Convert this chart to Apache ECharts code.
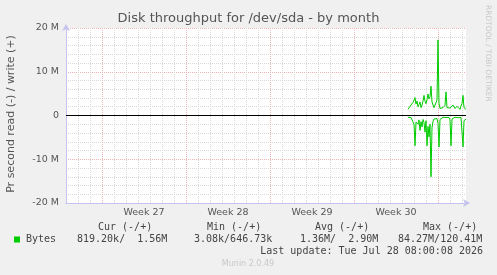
<!DOCTYPE html>
<html>
<head>
<meta charset="utf-8">
<script src="https://cdn.jsdelivr.net/npm/echarts@6/dist/echarts.min.js"></script>
<style>
html,body{margin:0;padding:0;background:#f0f0f0;}
#chart{width:497px;height:275px;}
</style>
</head>
<body>
<div id="chart"></div>
<script>
// ---- data (values in MB/s) ----
const weekLabels = ['Week 27', 'Week 28', 'Week 29', 'Week 30'];
const weekMidHours = [84, 252, 420, 588];
const yTickValues = [-20000000, -10000000, 0, 10000000, 20000000];
const yTickLabels = ['-20 M', '-10 M', '0', '10 M', '20 M'];
const startHour = 612;   // first sample, hours after start of Week 27
const stepHours = 2;
const writeM = [1.4, 1.8, 2.1, 2.3, 2.5, 3.0, 3.5, 4.1, 2.6, 3.3, 2.0, 2.5, 3.1, 1.8, 2.4, 3.3,
  4.6, 3.3, 2.7, 3.6, 4.9, 3.8, 4.3, 6.7, 3.1, 2.7, 1.8, 1.9, 2.1, 3.5, 17.3, 2.8, 1.6, 1.5,
  1.4, 1.8, 2.0, 2.3, 5.4, 1.8, 1.7, 1.6, 1.7, 1.7, 2.0, 2.4, 2.75, 1.6, 1.9, 2.1, 2.3, 1.7,
  1.4, 2.2, 2.75, 4.6, 1.8, 1.5, 1.4];
const readM = [0.4, 0.4, 0.45, 0.45, 0.5, 0.6, 2.0, 6.9, 1.5, 1.2, 2.0, 1.0, 3.4, 1.4, 2.6, 0.9,
  1.6, 3.8, 1.2, 6.9, 2.5, 4.9, 2.0, 14.0, 2.8, 1.3, 0.8, 0.6, 0.5, 0.7, 1.8, 7.2, 0.9, 0.6,
  0.5, 0.4, 0.4, 0.5, 0.45, 0.4, 0.4, 0.45, 1.0, 6.9, 0.8, 0.5, 0.45, 0.4, 0.4, 0.45, 0.5, 0.45,
  0.4, 0.45, 0.8, 7.2, 1.2, 1.1, 0.82];
const legendHeader = [['Cur (-/+)', 98], ['Min (-/+)', 207], ['Avg (-/+)', 315], ['Max (-/+)', 423]];
const legendValues = [['819.20k/  1.56M', 77], ['3.08k/646.73k', 194], ['1.36M/  2.90M', 300], ['84.27M/120.41M', 398]];
const lastUpdate = 'Last update: Tue Jul 28 08:00:08 2026';

// ---- build ----
const writeData = writeM.map((v, i) => [startHour + i * stepHours, v * 1e6]);
const readData = readM.map((v, i) => [startHour + i * stepHours, -v * 1e6]);

const GRAY = '#d8d8d8', RED = '#f0b4b4', T = 'rgba(0,0,0,0)';
const xColors = [];
for (let k = 0; k < 14; k++) xColors.push(k === 6 ? RED : (k % 2 === 0 ? GRAY : T));
const yColors = [RED, GRAY, GRAY, GRAY, GRAY];
const axisCol = '#c4c4ee';
const mono = 'DejaVu Sans Mono';
const txt = '#444';

const graphics = [
  {type: 'text', left: 'center', top: 12, style: {text: 'Disk throughput for /dev/sda - by month', font: '13px "DejaVu Sans"', fill: '#555'}},
  {type: 'text', x: 6, y: 114, rotation: Math.PI / 2, style: {text: 'Pr second read (-) / write (+)', font: '11px "DejaVu Sans"', fill: '#555', align: 'center', verticalAlign: 'top'}},
  {type: 'text', x: 492, y: 5, rotation: -Math.PI / 2, style: {text: 'RRDTOOL / TOBI OETIKER', font: '7.5px "DejaVu Sans"', fill: '#c8c8c8', align: 'left', verticalAlign: 'top'}},
  {type: 'rect', shape: {x: 14, y: 236.5, width: 6, height: 6}, style: {fill: '#00cc00'}},
  {type: 'text', x: 26, y: 239.5, style: {text: 'Bytes', font: '10px ' + mono, fill: txt, verticalAlign: 'middle'}},
  {type: 'text', x: 483, y: 251, style: {text: lastUpdate, font: '10px ' + mono, fill: txt, align: 'right', verticalAlign: 'middle'}},
  {type: 'text', x: 248, y: 264, style: {text: 'Munin 2.0.49', font: '8px "DejaVu Sans"', fill: '#c8c8c8', align: 'center', verticalAlign: 'middle'}}
];
legendHeader.forEach(([t, x]) => graphics.push({type: 'text', x: x, y: 227.5, style: {text: t, font: '10px ' + mono, fill: txt, verticalAlign: 'middle'}}));
legendValues.forEach(([t, x]) => graphics.push({type: 'text', x: x, y: 239.5, style: {text: t, font: '10px ' + mono, fill: txt, verticalAlign: 'middle', whiteSpace: 'pre'}}));

const chart = echarts.init(document.getElementById('chart'), null, {renderer: 'canvas'});
chart.setOption({
  animation: false,
  backgroundColor: '#f0f0f0',
  grid: {left: 66, top: 28, width: 400, height: 175, show: true, backgroundColor: '#ffffff', borderWidth: 0, containLabel: false},
  xAxis: {
    type: 'value', min: -72, max: 728, interval: 12,
    axisLine: {show: true, onZero: false, lineStyle: {color: axisCol, width: 1}, symbol: ['none', 'arrow'], symbolSize: [6, 7], symbolOffset: [0, 4]},
    axisTick: {show: false},
    axisLabel: {
      margin: 5, color: '#555', fontFamily: 'DejaVu Sans', fontSize: 9.5,
      showMinLabel: true, showMaxLabel: true,
      formatter: v => { const i = weekMidHours.indexOf(v); return i >= 0 ? weekLabels[i] : ''; }
    },
    splitLine: {show: true, lineStyle: {color: xColors, type: [1, 1], width: 1}}
  },
  yAxis: {
    type: 'value', min: -20000000, max: 20000000, interval: 2000000,
    axisLine: {show: true, onZero: false, lineStyle: {color: axisCol, width: 1}, symbol: ['none', 'arrow'], symbolSize: [6, 7], symbolOffset: [0, 4]},
    axisTick: {show: false},
    axisLabel: {
      margin: 7, color: '#555', fontFamily: 'DejaVu Sans', fontSize: 9.5,
      formatter: v => { const i = yTickValues.indexOf(v); return i >= 0 ? yTickLabels[i] : ''; }
    },
    splitLine: {show: true, lineStyle: {color: yColors, type: [1, 1], width: 1}}
  },
  graphic: graphics,
  series: [
    {
      type: 'line', data: writeData, showSymbol: false, symbol: 'none',
      lineStyle: {color: '#00cc00', width: 1}, itemStyle: {color: '#00cc00'}, z: 3,
      markLine: {silent: true, symbol: ['none', 'none'], label: {show: false},
        lineStyle: {color: '#000', type: 'solid', width: 1}, data: [{yAxis: 0}]}
    },
    {
      type: 'line', data: readData, showSymbol: false, symbol: 'none',
      lineStyle: {color: '#00cc00', width: 1}, itemStyle: {color: '#00cc00'}, z: 3
    }
  ]
});
</script>
</body>
</html>
